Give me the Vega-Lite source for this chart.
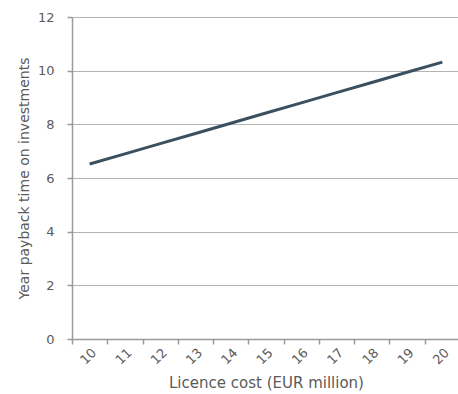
{
  "$schema": "https://vega.github.io/schema/vega-lite/v6.json",
  "autosize": "none",
  "width": 388,
  "height": 322,
  "padding": {"left": 72, "top": 17, "right": 0, "bottom": 55},
  "background": "white",
  "data": {"values": [
    {"cost": "10", "years": 6.52},
    {"cost": "11", "years": 6.9},
    {"cost": "12", "years": 7.28},
    {"cost": "13", "years": 7.66},
    {"cost": "14", "years": 8.04},
    {"cost": "15", "years": 8.42},
    {"cost": "16", "years": 8.8},
    {"cost": "17", "years": 9.18},
    {"cost": "18", "years": 9.56},
    {"cost": "19", "years": 9.94},
    {"cost": "20", "years": 10.32}
  ]},
  "mark": {"type": "line", "color": "#3b505e", "strokeWidth": 3},
  "encoding": {
    "x": {
      "field": "cost", "type": "ordinal",
      "scale": {"type": "band", "paddingInner": 0, "paddingOuter": 0},
      "axis": {
        "title": "Licence cost (EUR million)",
        "titleFontSize": 15,
        "labelAngle": -45,
        "tickBand": "extent",
        "tickSize": 5,
        "labelPadding": 2,
        "titlePadding": 9,
        "grid": false
      }
    },
    "y": {
      "field": "years", "type": "quantitative",
      "scale": {"domain": [0, 12], "nice": false},
      "axis": {
        "title": "Year payback time on investments",
        "titleFontSize": 14,
        "values": [0, 2, 4, 6, 8, 10, 12],
        "tickSize": 5,
        "labelPadding": 13,
        "titlePadding": 6,
        "grid": true
      }
    }
  },
  "config": {
    "view": {"stroke": null},
    "axis": {
      "labelFont": "DejaVu Sans",
      "titleFont": "DejaVu Sans",
      "labelFontSize": 13,
      "titleFontWeight": "normal",
      "labelColor": "#5a5a5a",
      "titleColor": "#5a5a5a",
      "domainColor": "#9a9a9a",
      "tickColor": "#9a9a9a",
      "gridColor": "#b4b4b4",
      "domainWidth": 1.5,
      "tickWidth": 1.5
    }
  }
}
